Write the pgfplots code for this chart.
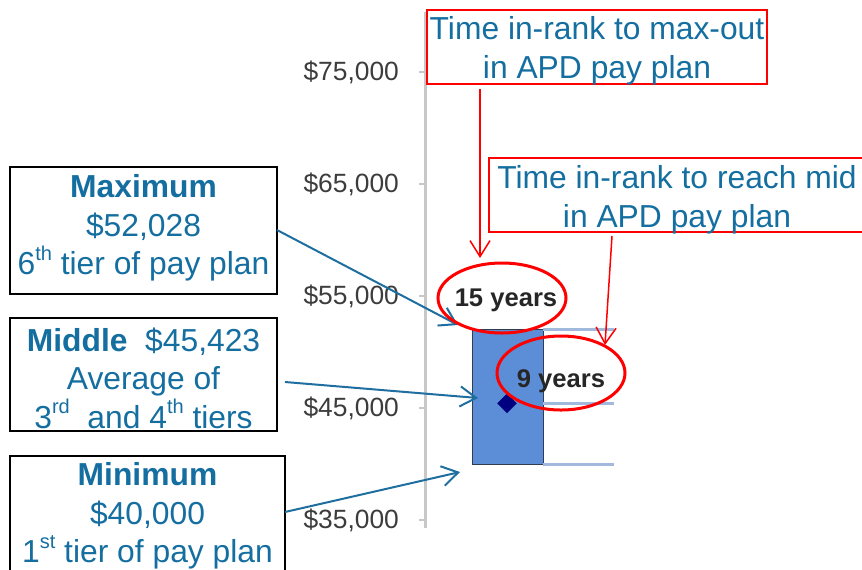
\documentclass[border=0pt]{standalone}
\usepackage{fontspec}
\setmainfont{Liberation Sans}
\usepackage{pgfplots}
\pgfplotsset{compat=1.18}
\usetikzlibrary{arrows.meta}
\definecolor{txtblue}{RGB}{20,110,160}
\definecolor{arrblue}{RGB}{30,110,160}
\definecolor{barblue}{RGB}{91,142,214}
\definecolor{baredge}{RGB}{50,60,85}
\definecolor{lineblue}{RGB}{160,185,220}
\definecolor{axgray}{RGB}{200,200,200}
\definecolor{ticktxt}{RGB}{60,60,60}
\definecolor{navymark}{RGB}{0,0,128}
\newcommand{\supx}[1]{\raisebox{0.45em}{\fontsize{10}{10}\selectfont #1}}
\begin{document}
\begin{tikzpicture}
\begin{axis}[
  at={(212.5pt,-264pt)}, anchor=south west,
  scale only axis, width=218.5pt, height=258pt,
  xmin=425, xmax=862, ymin=34286, ymax=80357,
  axis x line=none, axis y line*=left,
  axis line style={draw=axgray, line width=1.5pt},
  scaled y ticks=false,
  ytick={35000,45000,55000,65000,75000},
  yticklabels={{\$35,000},{\$45,000},{\$55,000},{\$65,000},{\$75,000}},
  tick align=outside, major tick length=3pt,
  tick style={draw=axgray, line width=0.75pt},
  yticklabel style={font=\fontsize{13.2}{15}\selectfont, text=ticktxt, xshift=-6.5pt},
  /pgf/number format/assume math mode=true,
  clip=false,
]
\addplot[fill=barblue, draw=baredge, line width=0.5pt] coordinates {(472,40000) (543,40000) (543,52028) (472,52028) (472,40000)};
\addplot[lineblue, line width=1.5pt] coordinates {(543,52028) (614,52028)};
\addplot[lineblue, line width=1.5pt] coordinates {(543,45423) (614,45423)};
\addplot[lineblue, line width=1.5pt] coordinates {(543,40000) (614,40000)};
\addplot[only marks, mark=square*, mark options={rotate=45, fill=navymark, draw=navymark}, mark size=3.25pt] coordinates {(507,45423)};
\end{axis}
\begin{scope}[x=0.5pt,y=-0.5pt]
% left boxes
\draw[black, line width=1pt] (10,167) rectangle (277,294);
\node[text=txtblue, align=center, font=\fontsize{15.9}{19.25}\selectfont] at (143.5,228) {\textbf{Maximum}\\ \$52,028\\ 6\supx{th} tier of pay plan};
\draw[black, line width=1pt] (10,318) rectangle (277,431);
\node[text=txtblue, align=center, font=\fontsize{15.9}{19.25}\selectfont] at (143.5,378) {\textbf{Middle}\ \ \$45,423\\ Average of\\ 3\supx{rd}\ \ and 4\supx{th} tiers};
\draw[black, line width=1pt] (10,456) rectangle (285,590);
\node[text=txtblue, align=center, font=\fontsize{15.9}{19.25}\selectfont] at (147.5,516) {\textbf{Minimum}\\ \$40,000\\ 1\supx{st} tier of pay plan};
% blue arrows
\draw[arrblue, line width=1pt, -{Straight Barb[length=8pt,width=10pt]}] (277,230) -- (458,325);
\draw[arrblue, line width=1pt, -{Straight Barb[length=8pt,width=10pt]}] (285,382) -- (478,398);
\draw[arrblue, line width=1pt, -{Straight Barb[length=8pt,width=10pt]}] (285,512) -- (460,472);
% red boxes
\draw[red, line width=1pt] (427,10) rectangle (767,84);
\node[text=txtblue, align=center, font=\fontsize{15.9}{19.25}\selectfont] at (597,51) {Time in-rank to max-out\\ in APD pay plan};
\draw[red, line width=1pt] (489,158) rectangle (875,232);
\node[text=txtblue, align=center, font=\fontsize{15.9}{19.25}\selectfont] at (677,200) {Time in-rank to reach mid\\ in APD pay plan};
% red arrows
\draw[red, line width=0.75pt, -{Straight Barb[length=8pt,width=10pt]}] (480,89) -- (480,258);
\draw[red, line width=0.75pt, -{Straight Barb[length=8pt,width=10pt]}] (612,236) -- (605,345);
% ellipses and labels
\node[font=\fontsize{12.8}{15}\selectfont\bfseries, text=black!85] at (506,300) {15 years};
\node[font=\fontsize{12.8}{15}\selectfont\bfseries, text=black!85] at (561,381) {9 years};
\draw[red, line width=1.5pt] (502,298) ellipse [x radius=32pt, y radius=17.5pt];
\draw[red, line width=1.5pt] (561,373) ellipse [x radius=32pt, y radius=18.5pt];
\end{scope}
\pgfresetboundingbox
\path[use as bounding box] (0,0) rectangle (431pt,-284.5pt);
\end{tikzpicture}
\end{document}
